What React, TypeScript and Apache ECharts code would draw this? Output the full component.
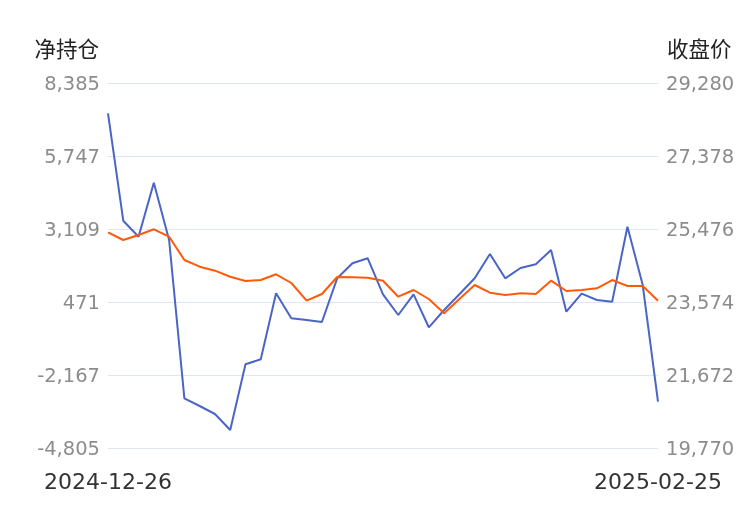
import React, { useEffect, useRef } from "react";
import * as echarts from "echarts";

const dates = [
  "2024-12-26", "2024-12-27", "2024-12-30", "2024-12-31",
  "2025-01-02", "2025-01-03", "2025-01-06", "2025-01-07", "2025-01-08", "2025-01-09", "2025-01-10",
  "2025-01-13", "2025-01-14", "2025-01-15", "2025-01-16", "2025-01-17",
  "2025-01-20", "2025-01-21", "2025-01-22", "2025-01-23", "2025-01-24", "2025-01-27",
  "2025-02-05", "2025-02-06", "2025-02-07",
  "2025-02-10", "2025-02-11", "2025-02-12", "2025-02-13", "2025-02-14",
  "2025-02-17", "2025-02-18", "2025-02-19", "2025-02-20", "2025-02-21",
  "2025-02-24", "2025-02-25",
];

const netPosition = [
  7290, 3409, 2831, 4782, 2711, -3009, -3287, -3576, -4155, -1780, -1600,
  785, -118, -179, -252, 1327, 1869, 2050, 749, 1, 749, -443,
  182, 749, 1327, 2206, 1327, 1700, 1833, 2350, 120, 771, 543, 482, 3192,
  1085, -3132,
];

const closePrice = [
  25390, 25189, 25320, 25468, 25275, 24668, 24494, 24390, 24233, 24121, 24147,
  24296, 24069, 23608, 23782, 24225, 24217, 24207, 24129, 23712, 23887, 23652,
  23280, 23652, 24017, 23816, 23756, 23801, 23782, 24129, 23861, 23887, 23931, 24147, 23991,
  23991, 23608,
];

const leftAxis = { name: "净持仓", min: -4805, max: 8385, interval: 2638 };
const rightAxis = { name: "收盘价", min: 19770, max: 29280, interval: 1902 };

const fmt = (v: number) => Math.round(v).toLocaleString("en-US");

export default function App() {
  const ref = useRef<HTMLDivElement>(null);
  useEffect(() => {
    if (!ref.current) return;
    const chart = echarts.init(ref.current, null, { renderer: "svg" });
    const font = "DejaVu Sans, sans-serif";
    const last = dates.length - 1;
    chart.setOption({
      animation: false,
      grid: { left: 108, right: 92, top: 83, bottom: 62, containLabel: false },
      xAxis: {
        type: "category",
        data: dates,
        boundaryGap: false,
        axisLine: { show: false },
        axisTick: { show: false },
        axisLabel: {
          interval: (i: number) => i === 0 || i === last,
          showMinLabel: true,
          showMaxLabel: true,
          hideOverlap: false,
          color: "#333",
          fontSize: 22,
          fontFamily: font,
          margin: 22,
        },
      },
      yAxis: [
        {
          type: "value",
          name: leftAxis.name,
          nameLocation: "end",
          nameGap: 36,
          nameTextStyle: {
            align: "right",
            verticalAlign: "middle",
            padding: [0, 9, 0, 0],
            fontSize: 21.5,
            color: "#222",
            fontFamily: "Noto Sans CJK SC, sans-serif",
          },
          min: leftAxis.min,
          max: leftAxis.max,
          interval: leftAxis.interval,
          position: "left",
          axisLine: { show: false },
          axisTick: { show: false },
          splitLine: { lineStyle: { color: "#e0e6f1", width: 1 } },
          axisLabel: {
            formatter: fmt,
            color: "#8c8c8c",
            fontSize: 19.5,
            fontFamily: font,
            margin: 8,
          },
        },
        {
          type: "value",
          name: rightAxis.name,
          nameLocation: "end",
          nameGap: 36,
          nameTextStyle: {
            align: "left",
            verticalAlign: "middle",
            padding: [0, 0, 0, 9],
            fontSize: 21.5,
            color: "#222",
            fontFamily: "Noto Sans CJK SC, sans-serif",
          },
          min: rightAxis.min,
          max: rightAxis.max,
          interval: rightAxis.interval,
          position: "right",
          axisLine: { show: false },
          axisTick: { show: false },
          splitLine: { show: false },
          axisLabel: {
            formatter: fmt,
            color: "#8c8c8c",
            fontSize: 19.5,
            fontFamily: font,
            margin: 8,
          },
        },
      ],
      series: [
        {
          name: leftAxis.name,
          type: "line",
          yAxisIndex: 0,
          data: netPosition,
          symbol: "none",
          lineStyle: { color: "#4a65c6", width: 2 },
          itemStyle: { color: "#4a65c6" },
        },
        {
          name: rightAxis.name,
          type: "line",
          yAxisIndex: 1,
          data: closePrice,
          symbol: "none",
          lineStyle: { color: "#ff5a0a", width: 2 },
          itemStyle: { color: "#ff5a0a" },
        },
      ],
    });
    return () => chart.dispose();
  }, []);
  return (
    <div
      ref={ref}
      style={{ position: "fixed", left: 0, top: 0, width: 750, height: 510 }}
    />
  );
}
